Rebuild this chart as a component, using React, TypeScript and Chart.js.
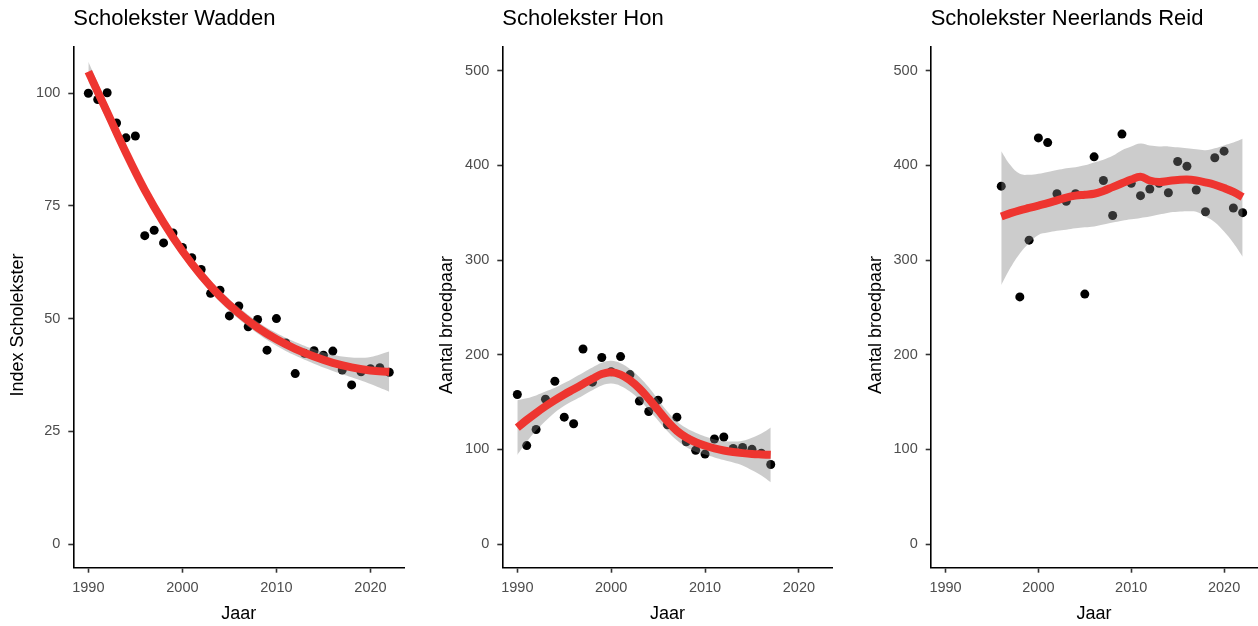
import { useEffect, useRef } from 'react';
import { Chart, registerables } from 'chart.js';

Chart.register(...registerables);

// ---------- data ----------
const YEAR_TICKS = [1990, 2000, 2010, 2020];
const WADDEN_Y_TICKS = [0, 25, 50, 75, 100];
const COUNT_Y_TICKS = [0, 100, 200, 300, 400, 500];

// Scholekster Wadden (index)
const WADDEN_YEARS = [1990, 1991, 1992, 1993, 1994, 1995, 1996, 1997, 1998, 1999, 2000, 2001, 2002, 2003, 2004, 2005, 2006, 2007, 2008, 2009, 2010, 2011, 2012, 2013, 2014, 2015, 2016, 2017, 2018, 2019, 2020, 2021, 2022];
const WADDEN_INDEX = [100, 98.6, 100.1, 93.4, 90.1, 90.5, 68.4, 69.6, 66.8, 69.0, 65.8, 63.5, 60.9, 55.6, 56.3, 50.6, 52.8, 48.2, 49.8, 43.0, 50.0, 44.6, 37.8, 42.3, 42.9, 41.9, 42.8, 38.6, 35.3, 38.2, 38.9, 39.1, 38.1];
const WADDEN_FIT_YEARS = [1990, 1992, 1994, 1996, 1998, 2000, 2002, 2004, 2006, 2008, 2010, 2012, 2014, 2016, 2018, 2020, 2022];
const WADDEN_FIT = [104.8, 95.8, 86.8, 78.5, 71.3, 65.0, 59.6, 55.0, 51.2, 48.0, 45.4, 43.3, 41.6, 40.2, 39.2, 38.5, 38.2];
const WADDEN_LO = [102.6, 93.9, 85.2, 77.1, 70.0, 63.7, 58.3, 53.7, 49.9, 46.7, 44.0, 41.8, 40.0, 38.4, 37.0, 35.5, 33.8];
const WADDEN_HI = [107.0, 97.7, 88.4, 79.9, 72.6, 66.3, 60.9, 56.3, 52.5, 49.3, 46.8, 44.8, 43.2, 42.0, 41.4, 41.5, 42.7];

// Scholekster Hon (broedparen)
const HON_YEARS = [1990, 1991, 1992, 1993, 1994, 1995, 1996, 1997, 1998, 1999, 2000, 2001, 2002, 2003, 2004, 2005, 2006, 2007, 2008, 2009, 2010, 2011, 2012, 2013, 2014, 2015, 2016, 2017];
const HON_COUNT = [158, 104, 121, 153, 172, 134, 127, 206, 171, 197, 182, 198, 179, 151, 140, 152, 126, 134, 108, 99, 95, 111, 113, 101, 102, 100, 96, 84];
const HON_FIT = [123, 131, 138.5, 145.5, 152, 158, 163.5, 169, 174.5, 179.5, 181.5, 179, 173, 164.5, 153.5, 141.5, 129.5, 119.5, 112.5, 107.5, 104, 101, 98.8, 97.2, 96, 95.1, 94.6, 94.2];
const HON_LO = [94, 108, 120, 130, 139, 146, 151.5, 157, 162.5, 167.5, 169.5, 167, 161, 152.5, 141.5, 130.5, 119, 109.5, 102.5, 97.5, 94.5, 91.5, 88.8, 86.2, 83, 78, 72.5, 65.2];
const HON_HI = [152, 154, 157, 161, 165, 170, 175.5, 181, 186.5, 191.5, 193.5, 191, 185, 176.5, 165.5, 152.5, 140, 129.5, 122.5, 117.5, 113.5, 110.5, 108.8, 108.2, 109, 112.2, 116.7, 123.2];

// Scholekster Neerlands Reid (broedparen)
const NR_YEARS = [1996, 1998, 1999, 2000, 2001, 2002, 2003, 2004, 2005, 2006, 2007, 2008, 2009, 2010, 2011, 2012, 2013, 2014, 2015, 2016, 2017, 2018, 2019, 2020, 2021, 2022];
const NR_COUNT = [378, 261, 321, 429, 424, 370, 362, 370, 264, 409, 384, 347, 433, 381, 368, 375, 381, 371, 404, 399, 374, 351, 408, 415, 355, 350];
const NR_FIT_YEARS = [1996, 1997, 1998, 1999, 2000, 2001, 2002, 2003, 2004, 2005, 2006, 2007, 2008, 2009, 2010, 2011, 2012, 2013, 2014, 2015, 2016, 2017, 2018, 2019, 2020, 2021, 2022];
const NR_FIT = [346, 349.5, 352.5, 355, 357.5, 360, 363, 366, 368, 369, 370, 373, 377, 381, 385, 388, 384, 382.5, 383.5, 384.5, 385, 384, 382, 379.5, 376, 372, 366.5];
const NR_LO = [273.5, 292, 307, 318, 326.5, 329, 331, 332, 333.5, 334.5, 335.5, 337.5, 339.5, 341.5, 343, 344.5, 346, 348, 350, 351, 351.5, 351, 346, 340, 330, 318, 303.5];
const NR_HI = [415, 400, 391, 390, 391, 393, 395, 397, 398, 400, 403, 406, 410, 416, 420, 423, 421, 420, 420, 419, 418, 417, 416, 418, 421, 424, 428];

// ---------- styling ----------
const FONT = '"Liberation Sans", Arial, Helvetica, sans-serif';
const RED = '#ee3530';
const RIBBON = 'rgba(128,128,128,0.4)';
const H = 626;

const xy = (xs: number[], ys: number[]) => xs.map((x, i) => ({ x, y: ys[i] }));

const yTitlePlugin = {
  id: 'yTitle',
  afterDraw(chart: any, _args: any, opts: any) {
    const { ctx, chartArea } = chart;
    ctx.save();
    ctx.translate(chartArea.left - 55, 325);
    ctx.rotate(-Math.PI / 2);
    ctx.font = `18px ${FONT}`;
    ctx.fillStyle = '#000';
    ctx.textAlign = 'center';
    ctx.textBaseline = 'middle';
    ctx.fillText(opts.text, 0, 0);
    ctx.restore();
  },
};

type PanelDef = {
  title: string;
  yTitle: string;
  years: number[];
  values: number[];
  fitYears: number[];
  fit: number[];
  lo: number[];
  hi: number[];
  yMin: number;
  yMax: number;
  yTicks: number[];
  left: number;
  width: number;
  padLeft: number;
  padRight: number;
};

const PANELS: PanelDef[] = [
  {
    title: 'Scholekster Wadden', yTitle: 'Index Scholekster',
    years: WADDEN_YEARS, values: WADDEN_INDEX, fitYears: WADDEN_FIT_YEARS, fit: WADDEN_FIT, lo: WADDEN_LO, hi: WADDEN_HI,
    yMin: -5.25, yMax: 110.25, yTicks: WADDEN_Y_TICKS,
    left: 0, width: 420, padLeft: 23.3, padRight: 15.7,
  },
  {
    title: 'Scholekster Hon', yTitle: 'Aantal broedpaar',
    years: HON_YEARS, values: HON_COUNT, fitYears: HON_YEARS, fit: HON_FIT, lo: HON_LO, hi: HON_HI,
    yMin: -25, yMax: 525, yTicks: COUNT_Y_TICKS,
    left: 420, width: 430, padLeft: 32.3, padRight: 17.3,
  },
  {
    title: 'Scholekster Neerlands Reid', yTitle: 'Aantal broedpaar',
    years: NR_YEARS, values: NR_COUNT, fitYears: NR_FIT_YEARS, fit: NR_FIT, lo: NR_LO, hi: NR_HI,
    yMin: -25, yMax: 525, yTicks: COUNT_Y_TICKS,
    left: 850, width: 412, padLeft: 30.7, padRight: 0,
  },
];

function buildConfig(p: PanelDef): any {
  const tickFont = { family: FONT, size: 14.5, weight: 'normal' as const };
  const grid = { display: true, drawOnChartArea: false, drawTicks: true, tickLength: 5, tickColor: '#333333', tickWidth: 1.6 };
  const border = { display: true, color: '#000000', width: 1.6 };
  return {
    type: 'line',
    data: {
      datasets: [
        {
          label: 'fit', data: xy(p.fitYears, p.fit), borderColor: RED, borderWidth: 8,
          pointRadius: 0, tension: 0.4, fill: false, borderCapStyle: 'butt', borderJoinStyle: 'round',
        },
        {
          label: 'hi', data: xy(p.fitYears, p.hi), borderWidth: 0, borderColor: 'rgba(0,0,0,0)',
          pointRadius: 0, tension: 0.4, fill: '+1', backgroundColor: RIBBON,
        },
        {
          label: 'lo', data: xy(p.fitYears, p.lo), borderWidth: 0, borderColor: 'rgba(0,0,0,0)',
          pointRadius: 0, tension: 0.4, fill: false,
        },
        {
          label: 'obs', data: xy(p.years, p.values), showLine: false, pointRadius: 4.5,
          pointBackgroundColor: '#000', pointBorderWidth: 0, borderColor: '#000', backgroundColor: '#000',
        },
      ],
    },
    options: {
      responsive: false,
      animation: false,
      devicePixelRatio: 1,
      layout: { padding: { left: p.padLeft, right: p.padRight, top: 0, bottom: 0 } },
      plugins: {
        legend: { display: false },
        tooltip: { enabled: false },
        title: {
          display: true, text: p.title, align: 'start', fullSize: false, color: '#000',
          font: { family: FONT, size: 22, weight: 'normal', lineHeight: 1.2 },
          padding: { top: 6, bottom: 14.6 },
        },
        yTitle: { text: p.yTitle },
      },
      scales: {
        x: {
          type: 'linear', min: 1988.4, max: 2023.6,
          afterBuildTicks: (s: any) => { s.ticks = YEAR_TICKS.map((v) => ({ value: v })); },
          afterFit: (s: any) => { s.height = 58.3; },
          ticks: { callback: (v: any) => String(v), color: '#4d4d4d', font: tickFont, padding: 7, maxRotation: 0, autoSkip: false },
          grid, border,
          title: { display: true, text: 'Jaar', color: '#000', font: { family: FONT, size: 18, weight: 'normal', lineHeight: 1.2 }, padding: { top: 0, bottom: 1.4 } },
        },
        y: {
          type: 'linear', min: p.yMin, max: p.yMax,
          afterBuildTicks: (s: any) => { s.ticks = p.yTicks.map((v) => ({ value: v })); },
          afterFit: (s: any) => { s.width = 50; },
          ticks: { callback: (v: any) => String(v), color: '#4d4d4d', font: tickFont, padding: 8, autoSkip: false },
          grid, border,
        },
      },
    },
    plugins: [yTitlePlugin],
  };
}

function Panel({ def }: { def: PanelDef }) {
  const ref = useRef<HTMLCanvasElement>(null);
  useEffect(() => {
    const chart = new Chart(ref.current as HTMLCanvasElement, buildConfig(def));
    return () => chart.destroy();
  }, [def]);
  return (
    <canvas
      ref={ref}
      width={def.width}
      height={H}
      style={{ position: 'absolute', left: def.left, top: 0, width: def.width, height: H }}
    />
  );
}

export default function App() {
  return (
    <div style={{ position: 'absolute', left: 0, top: 0, width: 1258, height: H, overflow: 'hidden', background: '#fff' }}>
      {PANELS.map((p) => (
        <Panel key={p.title} def={p} />
      ))}
    </div>
  );
}
